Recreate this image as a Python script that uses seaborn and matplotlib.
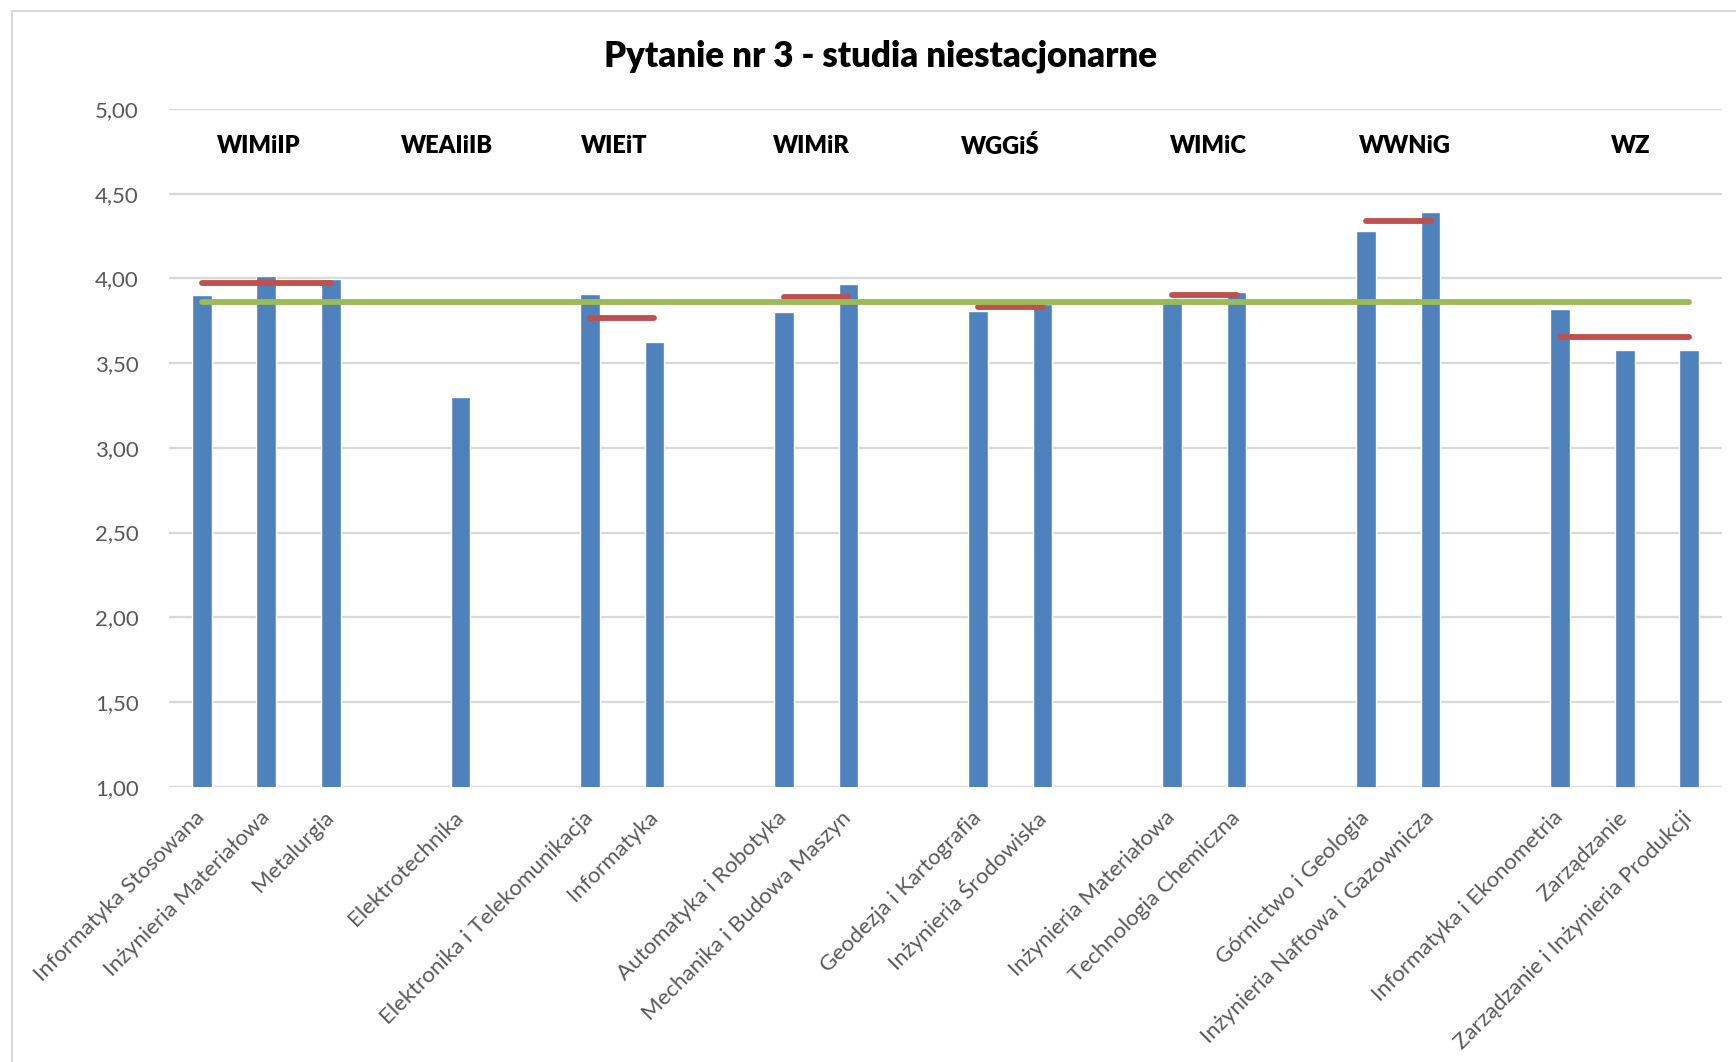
import matplotlib
matplotlib.use("Agg")
import matplotlib.pyplot as plt
import seaborn as sns
import numpy as np
import pandas as pd
from matplotlib.patches import Rectangle

# ---------------- data ----------------
categories = [
    "Informatyka Stosowana", "Inżynieria Materiałowa", "Metalurgia", "",
    "Elektrotechnika", "",
    "Elektronika i Telekomunikacja", "Informatyka", "",
    "Automatyka i Robotyka", "Mechanika i Budowa Maszyn", "",
    "Geodezja i Kartografia", "Inżynieria Środowiska", "",
    "Inżynieria Materiałowa", "Technologia Chemiczna", "",
    "Górnictwo i Geologia", "Inżynieria Naftowa i Gazownicza", "",
    "Informatyka i Ekonometria", "Zarządzanie", "Zarządzanie i Inżynieria Produkcji",
]
values = [
    3.905, 4.015, 3.998, np.nan,
    3.30, np.nan,
    3.907, 3.624, np.nan,
    3.80, 3.966, np.nan,
    3.807, 3.851, np.nan,
    3.882, 3.917, np.nan,
    4.279, 4.392, np.nan,
    3.817, 3.575, 3.580,
]
faculties = ["WIMiIP", "WEAIiIB", "WIEiT", "WIMiR", "WGGiŚ", "WIMiC", "WWNiG", "WZ"]
faculty_members = [[0, 1, 2], [4], [6, 7], [9, 10], [12, 13], [15, 16], [18, 19], [21, 22, 23]]
faculty_means = [3.974, 3.30, 3.766, 3.888, 3.829, 3.900, 4.337, 3.657]
overall_mean = 3.86
faculty_label_x = [0.89, 3.8, 6.38, 9.42, 12.34, 15.56, 18.6, 22.1]  # label placement (layout)

# ---------------- style ----------------
sns.set_theme(style="white")
plt.rcParams["font.family"] = ["Lato", "DejaVu Sans"]

BAR = "#4F81BD"
RED = "#C0504D"
GREEN = "#9BBB59"
GRID = "#D9D9D9"
TXT = "#595959"

fig = plt.figure(figsize=(17.36, 10.62), dpi=100)
ax = fig.add_axes([169.3 / 1736, 1 - 786.7 / 1062, (1721.7 - 169.3) / 1736, (786.7 - 109) / 1062])

df = pd.DataFrame({"slot": list(range(len(categories))), "value": values})
sns.barplot(data=df, x="slot", y="value", order=list(range(len(categories))),
            color=BAR, saturation=1, width=0.305, ax=ax, zorder=2)

ax.set_ylim(1, 5)
ax.set_xlim(-0.5, len(categories) - 0.5)
ax.set_yticks(np.arange(1, 5.01, 0.5))
ax.set_yticklabels([f"{v:.2f}".replace(".", ",") for v in np.arange(1, 5.01, 0.5)],
                   fontsize=16, color=TXT)
ax.yaxis.grid(True, color=GRID, linewidth=1.6, zorder=0)
ax.set_axisbelow(True)
for s in ax.spines.values():
    s.set_visible(False)
ax.tick_params(axis="y", length=0, pad=22)
ax.tick_params(axis="x", length=0, pad=20)
ax.set_xlabel("")
ax.set_ylabel("")

ax.set_xticks(list(range(len(categories))))
ax.set_xticklabels(categories, rotation=45, ha="right", va="center",
                   rotation_mode="anchor", fontsize=16, color=TXT)

# faculty average lines
for members, m in zip(faculty_members, faculty_means):
    if len(members) > 1:
        ax.plot([members[0], members[-1]], [m, m], color=RED, linewidth=4.2,
                solid_capstyle="round", zorder=3)

# overall average line
ax.plot([0, len(categories) - 1], [overall_mean, overall_mean], color=GREEN,
        linewidth=4.2, solid_capstyle="round", zorder=4)

# faculty labels
for name, x in zip(faculties, faculty_label_x):
    ax.text(x, 4.78, name, ha="center", va="center", fontsize=17,
            fontweight="heavy", color="black")

fig.text(881 / 1736, 1 - 56 / 1062, "Pytanie nr 3 - studia niestacjonarne",
         ha="center", va="center", fontsize=25, fontweight="heavy", color="black")

fig.patches.append(Rectangle((12 / 1736, -0.1), 1.2, 1 - 11 / 1062 + 0.1,
                             transform=fig.transFigure, fill=False,
                             edgecolor=GRID, linewidth=1.5))

fig.savefig("out.png", dpi=100)
